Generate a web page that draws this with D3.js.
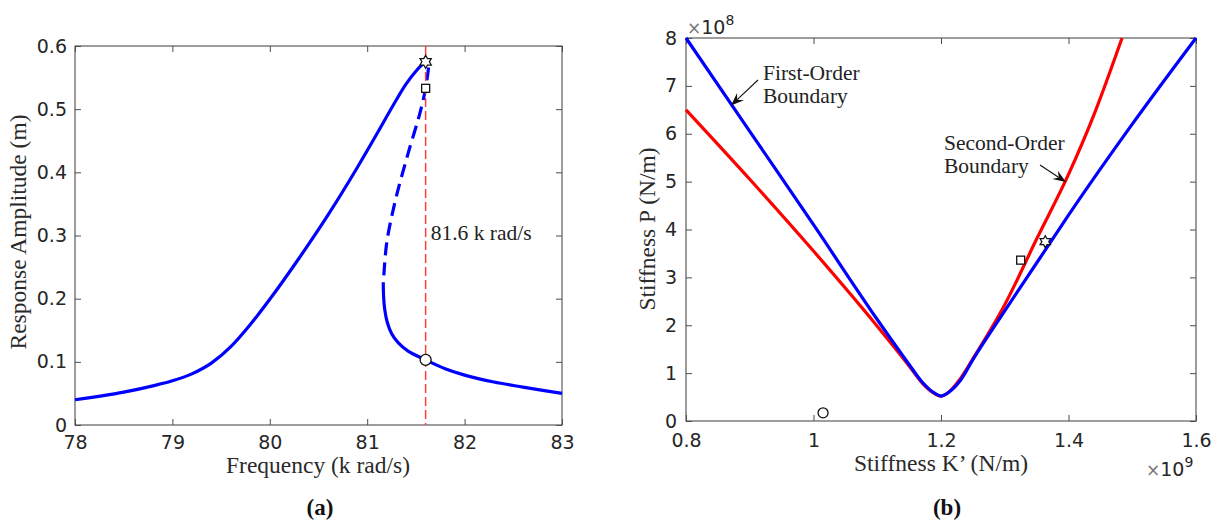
<!DOCTYPE html>
<html><head><meta charset="utf-8">
<script src="https://cdn.jsdelivr.net/npm/d3@7"></script>
<style>body{margin:0;background:#fff}svg{display:block}</style>
</head><body>
<script>
// ---------- Panel (a) data ----------
const aXTicks = [78, 79, 80, 81, 82, 83];
const aYTicks = [0, 0.1, 0.2, 0.3, 0.4, 0.5, 0.6];
const upperFreq = [78, 78.5, 78.8, 79, 79.2, 79.4, 79.6, 79.8, 80, 80.3, 80.6, 80.9, 81.1, 81.27, 81.4, 81.5, 81.57, 81.6, 81.625];
const upperAmp  = [0.040, 0.052, 0.062, 0.070, 0.081, 0.098, 0.124, 0.159, 0.199, 0.264, 0.333, 0.408, 0.461, 0.507, 0.540, 0.560, 0.571, 0.574, 0.572];
const unstableFreq = [81.63, 81.6, 81.54, 81.42, 81.29, 81.2, 81.17];
const unstableAmp  = [0.566, 0.533, 0.493, 0.430, 0.356, 0.288, 0.234];
const lowerFreq = [81.165, 81.168, 81.18, 81.205, 81.25, 81.32, 81.42, 81.6, 81.8, 82.0, 82.3, 82.6, 83];
const lowerAmp  = [0.226, 0.205, 0.183, 0.163, 0.145, 0.130, 0.117, 0.103, 0.089, 0.079, 0.068, 0.060, 0.050];
const markerFreq = 81.6;
const aStar = [81.6, 0.575], aSquare = [81.6, 0.533], aCircle = [81.6, 0.103];

// ---------- Panel (b) data ----------
const bXTicks = [0.8, 1.0, 1.2, 1.4, 1.6];
const bXLabels = ["0.8", "1", "1.2", "1.4", "1.6"];
const bYTicks = [0, 1, 2, 3, 4, 5, 6, 7, 8];
const firstK = [0.8, 0.9, 1.0, 1.1, 1.15, 1.17, 1.19, 1.2, 1.21, 1.23, 1.25, 1.3, 1.35, 1.4, 1.5, 1.6];
const firstP = [8.0, 6.05, 4.1, 2.12, 1.18, 0.82, 0.58, 0.52, 0.58, 0.84, 1.28, 2.3, 3.3, 4.3, 6.2, 8.0];
const secondK = [0.8, 0.9, 1.0, 1.1, 1.15, 1.17, 1.19, 1.2, 1.21, 1.23, 1.25, 1.3, 1.35, 1.4, 1.44, 1.484];
const secondP = [6.5, 5.05, 3.55, 1.98, 1.15, 0.8, 0.57, 0.52, 0.58, 0.88, 1.3, 2.43, 3.8, 5.15, 6.4, 8.0];
const bStar = [1.3636, 3.745], bSquare = [1.325, 3.36], bCircle = [1.015, 0.17];

const W = 1213, H = 527;
const svg = d3.select("body").append("svg").attr("width", W).attr("height", H);
svg.append("rect").attr("width", W).attr("height", H).attr("fill", "#fff");

const tickFont = "'DejaVu Sans', sans-serif";
const serif = "'Liberation Serif', 'Times New Roman', serif";
const axisColor = "#4d4d4d";
const tickTextColor = "#262626";

function frame(x, y, xTicks, yTicks, xFmt, yFmt, padX, padY) {
  const [x0, x1] = x.range(), [y0, y1] = y.range();
  const g = svg.append("g");
  const bottom = g.append("g").attr("transform", `translate(0,${y0})`)
    .call(d3.axisBottom(x).tickValues(xTicks).tickSize(-6).tickSizeOuter(0).tickPadding(padX).tickFormat(xFmt));
  const top = g.append("g").attr("transform", `translate(0,${y1})`)
    .call(d3.axisTop(x).tickValues(xTicks).tickSize(-6).tickSizeOuter(0).tickFormat(""));
  const left = g.append("g").attr("transform", `translate(${x0},0)`)
    .call(d3.axisLeft(y).tickValues(yTicks).tickSize(-6).tickSizeOuter(0).tickPadding(padY).tickFormat(yFmt));
  const right = g.append("g").attr("transform", `translate(${x1},0)`)
    .call(d3.axisRight(y).tickValues(yTicks).tickSize(-6).tickSizeOuter(0).tickFormat(""));
  [bottom, top, left, right].forEach(a => {
    a.select(".domain").remove();
    a.selectAll("line").attr("stroke", axisColor).attr("stroke-width", 1);
    a.selectAll("text").attr("font-family", tickFont).attr("font-size", 19).attr("fill", tickTextColor);
  });
  g.append("rect").attr("x", x0).attr("y", y1).attr("width", x1 - x0).attr("height", y0 - y1)
    .attr("fill", "none").attr("stroke", axisColor).attr("stroke-width", 1.1);
  return g;
}

function hexagram(r) {
  const pts = [];
  for (let i = 0; i < 12; i++) {
    const a = -Math.PI / 2 + i * Math.PI / 6;
    const rr = i % 2 === 0 ? r : r * 0.577;
    pts.push([rr * Math.cos(a), rr * Math.sin(a)]);
  }
  return "M" + pts.map(p => p.join(",")).join("L") + "Z";
}

function markers(layer, x, y, star, square, circle, sq, cr, sr) {
  layer.append("path").attr("d", hexagram(sr))
    .attr("transform", `translate(${x(star[0])},${y(star[1])})`)
    .attr("fill", "#fff").attr("stroke", "#111").attr("stroke-width", 1.3);
  layer.append("rect").attr("x", x(square[0]) - sq / 2).attr("y", y(square[1]) - sq / 2)
    .attr("width", sq).attr("height", sq)
    .attr("fill", "#fff").attr("stroke", "#111").attr("stroke-width", 1.3);
  layer.append("circle").attr("cx", x(circle[0])).attr("cy", y(circle[1])).attr("r", cr)
    .attr("fill", "#fff").attr("stroke", "#111").attr("stroke-width", 1.3);
}

function arrow(layer, x1, y1, x2, y2) {
  const ang = Math.atan2(y2 - y1, x2 - x1);
  const L = 13, Wd = 5, notch = 8.5;
  const c = Math.cos(ang), s = Math.sin(ang);
  const back = [x2 - L * c, y2 - L * s];
  const notchPt = [x2 - notch * c, y2 - notch * s];
  layer.append("line").attr("x1", x1).attr("y1", y1).attr("x2", notchPt[0]).attr("y2", notchPt[1])
    .attr("stroke", "#111").attr("stroke-width", 1.1);
  const p1 = [back[0] - Wd * s, back[1] + Wd * c];
  const p2 = [back[0] + Wd * s, back[1] - Wd * c];
  layer.append("path").attr("d", `M${x2},${y2}L${p1[0]},${p1[1]}L${notchPt[0]},${notchPt[1]}L${p2[0]},${p2[1]}Z`)
    .attr("fill", "#111");
}

// ================= Panel (a) =================
const xa = d3.scaleLinear().domain([78, 83]).range([75, 562]);
const ya = d3.scaleLinear().domain([0, 0.6]).range([425, 46]);
frame(xa, ya, aXTicks, aYTicks, d3.format("d"), d => d === 0 ? "0" : d3.format(".1f")(d), 11, 8);

const lineA = d3.line().x(d => xa(d[0])).y(d => ya(d[1])).curve(d3.curveCatmullRom.alpha(0.5));
const lineAUpper = d3.line().x(d => xa(d[0])).y(d => ya(d[1])).curve(d3.curveMonotoneX);
const plotA = svg.append("g");
plotA.append("path").attr("d", lineAUpper(d3.zip(upperFreq, upperAmp)))
  .attr("fill", "none").attr("stroke", "#0000ff").attr("stroke-width", 3.2);
plotA.append("path").attr("d", lineA(d3.zip(unstableFreq, unstableAmp)))
  .attr("fill", "none").attr("stroke", "#0000ff").attr("stroke-width", 3.2)
  .attr("stroke-dasharray", "13,7");
plotA.append("path").attr("d", lineA(d3.zip(lowerFreq, lowerAmp)))
  .attr("fill", "none").attr("stroke", "#0000ff").attr("stroke-width", 3.2);
plotA.append("line").attr("x1", xa(markerFreq)).attr("x2", xa(markerFreq))
  .attr("y1", ya(0.6)).attr("y2", ya(0))
  .attr("stroke", "#ff3b3b").attr("stroke-width", 1.5).attr("stroke-dasharray", "9,4");
markers(plotA, xa, ya, aStar, aSquare, aCircle, 8, 5.5, 6.5);

plotA.append("text").attr("x", xa(markerFreq) + 5).attr("y", ya(0.305)).attr("dy", "0.35em")
  .attr("font-family", serif).attr("font-size", 21.5).attr("fill", "#222").text("81.6 k rad/s");

svg.append("text").attr("x", 318).attr("y", 465).attr("dy", "0.35em").attr("text-anchor", "middle")
  .attr("font-family", serif).attr("font-size", 23.5).attr("fill", "#2a2a2a").text("Frequency (k rad/s)");
svg.append("text").attr("transform", "translate(18,232) rotate(-90)").attr("dy", "0.35em").attr("text-anchor", "middle")
  .attr("font-family", serif).attr("font-size", 23.5).attr("fill", "#2a2a2a").text("Response Amplitude (m)");
svg.append("text").attr("x", 320).attr("y", 507).attr("dy", "0.35em").attr("text-anchor", "middle")
  .attr("font-family", serif).attr("font-weight", "bold").attr("font-size", 23).attr("fill", "#111").text("(a)");

// ================= Panel (b) =================
const xb = d3.scaleLinear().domain([0.8, 1.6]).range([686, 1196]);
const yb = d3.scaleLinear().domain([0, 8]).range([421, 38]);
frame(xb, yb, bXTicks, bYTicks, (d, i) => bXLabels[i], d3.format("d"), 13, 9);

const lineB = d3.line().x(d => xb(d[0])).y(d => yb(d[1])).curve(d3.curveMonotoneX);
const plotB = svg.append("g");
plotB.append("path").attr("d", lineB(d3.zip(secondK, secondP)))
  .attr("fill", "none").attr("stroke", "#ff0000").attr("stroke-width", 3.2);
plotB.append("path").attr("d", lineB(d3.zip(firstK, firstP)))
  .attr("fill", "none").attr("stroke", "#0000ff").attr("stroke-width", 3.2);
markers(plotB, xb, yb, bStar, bSquare, bCircle, 8, 5, 6);

const ann = svg.append("g").attr("font-family", serif).attr("font-size", 21.5).attr("fill", "#222");
ann.append("text").attr("x", 763).attr("y", 72).attr("dy", "0.35em").text("First-Order");
ann.append("text").attr("x", 763).attr("y", 95).attr("dy", "0.35em").text("Boundary");
ann.append("text").attr("x", 944).attr("y", 142).attr("dy", "0.35em").text("Second-Order");
ann.append("text").attr("x", 944).attr("y", 165).attr("dy", "0.35em").text("Boundary");
arrow(svg, 758, 80, xb(0.8706), yb(6.59));
arrow(svg, 1040, 165, xb(1.396), yb(4.99));

// exponent labels
const e8 = svg.append("text").attr("x", 687).attr("y", 34).attr("font-family", tickFont).attr("fill", tickTextColor);
e8.append("tspan").attr("font-size", 17).attr("fill", "#777").text("×");
e8.append("tspan").attr("font-size", 19).text("10");
e8.append("tspan").attr("font-size", 14).attr("dy", -9).text("8");
const e9 = svg.append("text").attr("x", 1146).attr("y", 476).attr("font-family", tickFont).attr("fill", tickTextColor);
e9.append("tspan").attr("font-size", 17).attr("fill", "#777").text("×");
e9.append("tspan").attr("font-size", 19).text("10");
e9.append("tspan").attr("font-size", 14).attr("dy", -9).text("9");

svg.append("text").attr("x", 941).attr("y", 463).attr("dy", "0.35em").attr("text-anchor", "middle")
  .attr("font-family", serif).attr("font-size", 23.5).attr("fill", "#2a2a2a").text("Stiffness K’ (N/m)");
svg.append("text").attr("transform", "translate(647,229) rotate(-90)").attr("dy", "0.35em").attr("text-anchor", "middle")
  .attr("font-family", serif).attr("font-size", 23.5).attr("fill", "#2a2a2a").text("Stiffness P (N/m)");
svg.append("text").attr("x", 947).attr("y", 507).attr("dy", "0.35em").attr("text-anchor", "middle")
  .attr("font-family", serif).attr("font-weight", "bold").attr("font-size", 23).attr("fill", "#111").text("(b)");
</script>
</body></html>
